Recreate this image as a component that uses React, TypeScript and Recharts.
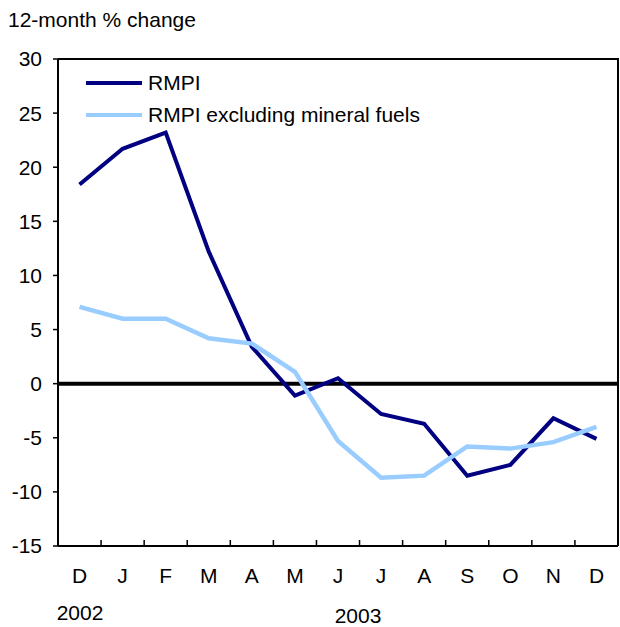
import React from 'react';
import { LineChart, Line, XAxis, YAxis, ReferenceLine } from 'recharts';

const months = ['D', 'J', 'F', 'M', 'A', 'M', 'J', 'J', 'A', 'S', 'O', 'N', 'D'];
const rmpi = [18.4, 21.7, 23.2, 12.2, 3.4, -1.1, 0.5, -2.8, -3.7, -8.5, -7.5, -3.2, -5.1];
const rmpiExFuels = [7.1, 6.0, 6.0, 4.2, 3.7, 1.1, -5.3, -8.7, -8.5, -5.8, -6.0, -5.4, -4.0];
const yTicks = [-15, -10, -5, 0, 5, 10, 15, 20, 25, 30];
const years = [
  { label: '2002', left: 80, top: 602 },
  { label: '2003', left: 358, top: 605 },
];
const series = [
  { key: 'rmpi', name: 'RMPI', color: '#000080', width: 4 },
  { key: 'ex', name: 'RMPI excluding mineral fuels', color: '#99CCFF', width: 4.5 },
];

const Y_MIN = -15;
const Y_MAX = 30;
const data = months.map((m, i) => ({ idx: i, month: m, rmpi: rmpi[i], ex: rmpiExFuels[i] }));
const xTicks: number[] = [];
months.forEach((_, i) => {
  xTicks.push(i);
  if (i < months.length - 1) xTicks.push(i + 0.5);
});

const W = 620;
const H = 627;
const MARGIN = { top: 59, right: 2, bottom: 0, left: 0 };
const Y_AXIS_W = 58;
const X_AXIS_H = 81;
const PLOT = {
  left: MARGIN.left + Y_AXIS_W,
  top: MARGIN.top,
  right: W - MARGIN.right,
  bottom: H - MARGIN.bottom - X_AXIS_H,
};

const FONT = '"Liberation Sans", Arial, sans-serif';
const FS = 21;
const X_TICK_OFFSET = 22; // tickSize + tickMargin

const MonthTick = (props: any) => {
  const { x, y, payload } = props;
  const v = payload.value as number;
  if (Number.isInteger(v)) {
    return (
      <text x={x} y={y} dy="0.71em" textAnchor="middle" fill="#000" fontFamily={FONT} fontSize={FS}>
        {months[v]}
      </text>
    );
  }
  const base = y - X_TICK_OFFSET;
  return <line x1={x} x2={x} y1={base} y2={base - 6} stroke="#000" strokeWidth={1.5} />;
};

export default function App() {
  return (
    <div style={{ position: 'absolute', left: 0, top: 0, width: W, height: H, fontFamily: FONT, overflow: 'hidden' }}>
      <LineChart width={W} height={H} data={data} margin={MARGIN}>
        <XAxis
          dataKey="idx"
          type="number"
          domain={[-0.5, months.length - 0.5]}
          ticks={xTicks}
          interval={0}
          height={X_AXIS_H}
          tickSize={6}
          tickMargin={16}
          tickLine={false}
          axisLine={{ stroke: '#000', strokeWidth: 2 }}
          tick={<MonthTick />}
          allowDataOverflow
        />
        <YAxis
          type="number"
          domain={[Y_MIN, Y_MAX]}
          ticks={yTicks}
          interval={0}
          width={Y_AXIS_W}
          tickSize={5}
          tickMargin={11}
          tickLine={{ stroke: '#000', strokeWidth: 1.5 }}
          axisLine={{ stroke: '#000', strokeWidth: 2 }}
          tick={{ fill: '#000', fontSize: FS, fontFamily: FONT }}
          allowDataOverflow
        />
        <ReferenceLine y={0} stroke="#000" strokeWidth={4} />
        {series.map((s) => (
          <Line
            key={s.key}
            dataKey={s.key}
            name={s.name}
            type="linear"
            stroke={s.color}
            strokeWidth={s.width}
            dot={false}
            activeDot={false}
            isAnimationActive={false}
          />
        ))}
      </LineChart>
      <div
        style={{
          position: 'absolute',
          left: PLOT.left,
          top: PLOT.top - 1,
          width: PLOT.right - PLOT.left + 1,
          height: PLOT.bottom - PLOT.top + 1,
          boxSizing: 'border-box',
          borderTop: '2px solid #000',
          borderRight: '2px solid #000',
          pointerEvents: 'none',
        }}
      />
      <div style={{ position: 'absolute', left: 8, top: 9, fontSize: FS, lineHeight: 1, color: '#000', whiteSpace: 'nowrap' }}>
        12-month % change
      </div>
      <div style={{ position: 'absolute', left: 86, top: 67 }}>
        {series.map((s) => (
          <div key={s.key} style={{ display: 'flex', alignItems: 'center', height: 32, fontSize: FS, color: '#000', whiteSpace: 'nowrap' }}>
            <div style={{ width: 56, height: 0, borderTop: `${s.width}px solid ${s.color}`, marginRight: 6 }} />
            <span>{s.name}</span>
          </div>
        ))}
      </div>
      {years.map((y) => (
        <div
          key={y.label}
          style={{ position: 'absolute', left: y.left, top: y.top, transform: 'translateX(-50%)', fontSize: FS, lineHeight: 1, color: '#000' }}
        >
          {y.label}
        </div>
      ))}
    </div>
  );
}
